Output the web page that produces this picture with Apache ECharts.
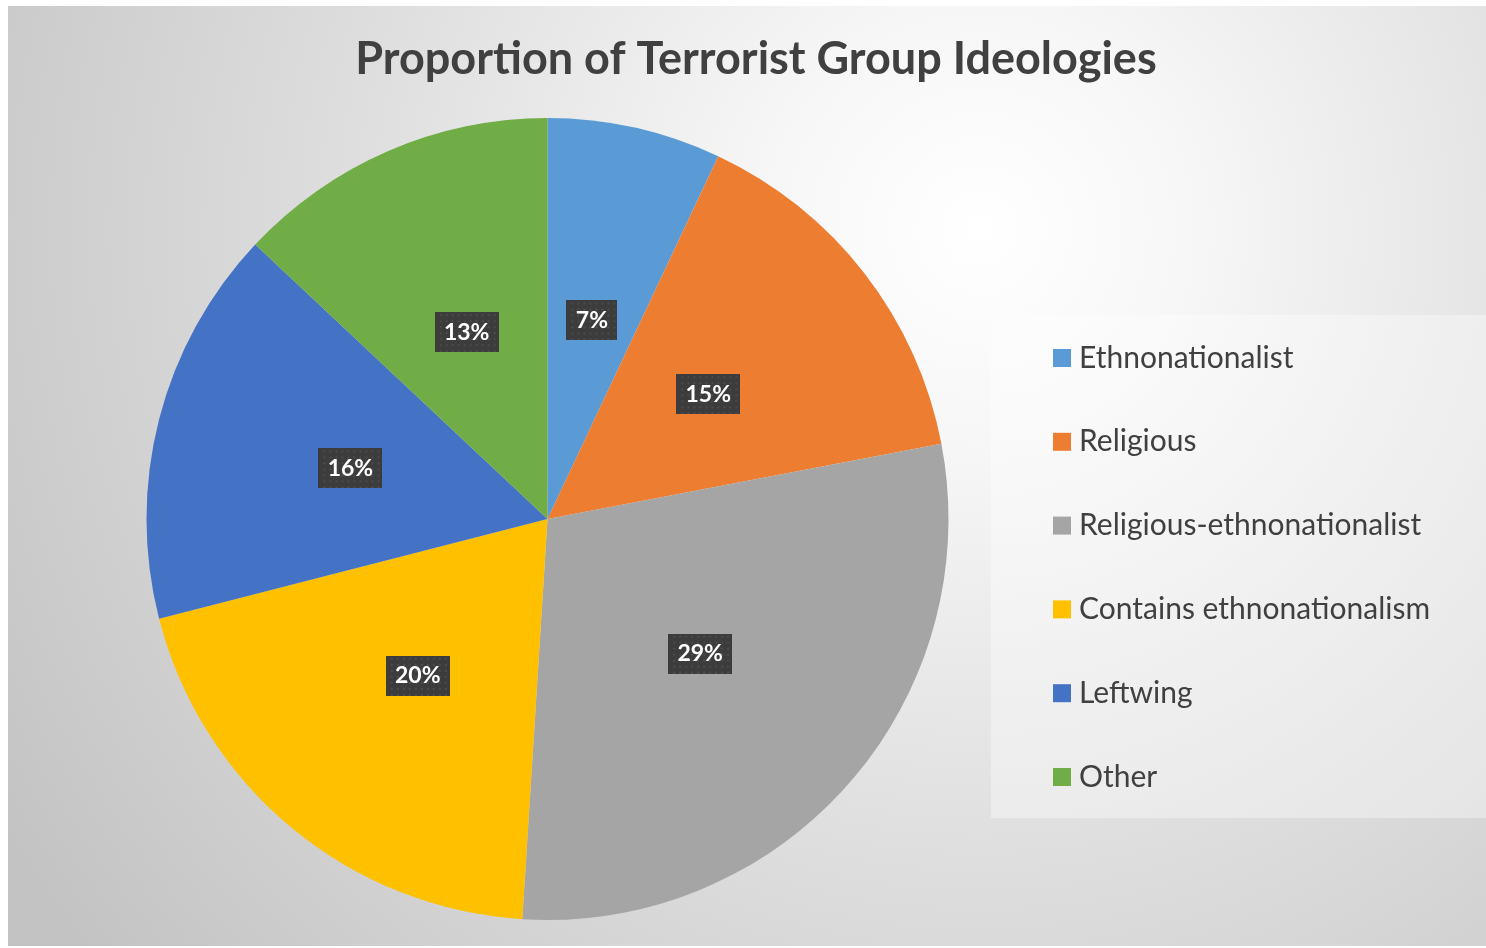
<!DOCTYPE html>
<html>
<head>
<meta charset="utf-8">
<title>Proportion of Terrorist Group Ideologies</title>
<script src="https://cdn.jsdelivr.net/npm/echarts@6/dist/echarts.min.js"></script>
<style>
  html, body { margin: 0; padding: 0; background: #ffffff; }
  #chart { width: 1486px; height: 948px; }
</style>
</head>
<body>
<div id="chart"></div>
<script>
// Ideology categories and their share of groups (percent)
const categories = [
  'Ethnonationalist',
  'Religious',
  'Religious-ethnonationalist',
  'Contains ethnonationalism',
  'Leftwing',
  'Other'
];
const shares = [7, 15, 29, 20, 16, 13];
const sliceColors = ['#5B9BD5', '#ED7D31', '#A5A5A5', '#FFC000', '#4472C4', '#70AD47'];
const chartTitle = 'Proportion of Terrorist Group Ideologies';

const FONT = 'Lato, "Open Sans", sans-serif';
const LABEL_FONT_SIZE = 23;
const LABEL_PAD_X = 9;
const LABEL_H = 40;

// Dark dotted tile used behind each percentage label
function makeLabelTile(w, h) {
  const c = document.createElement('canvas');
  c.width = w; c.height = h;
  const g = c.getContext('2d');
  g.fillStyle = '#3c3c3c';
  g.fillRect(0, 0, w, h);
  g.fillStyle = '#4c4c4c';
  for (let y = 2; y < h; y += 6) {
    for (let x = 2 + ((y / 6) % 2 ? 3 : 0); x < w; x += 6) {
      g.fillRect(x, y, 2, 2);
    }
  }
  return c;
}

const measureCtx = document.createElement('canvas').getContext('2d');
measureCtx.font = 'bold ' + LABEL_FONT_SIZE + 'px ' + FONT;

const pieData = categories.map((name, i) => {
  const text = shares[i] + '%';
  const w = Math.ceil(measureCtx.measureText(text).width) + LABEL_PAD_X * 2;
  return {
    name: name,
    value: shares[i],
    itemStyle: { color: sliceColors[i] },
    label: {
      width: w,
      height: LABEL_H,
      backgroundColor: { image: makeLabelTile(w, LABEL_H) }
    }
  };
});

const chart = echarts.init(document.getElementById('chart'), null, { renderer: 'canvas' });

chart.setOption({
  animation: false,
  backgroundColor: '#ffffff',
  graphic: [
    {
      // chart area with a soft radial light
      type: 'rect',
      z: -10,
      silent: true,
      shape: { x: 8, y: 6, width: 1478, height: 940 },
      style: {
        fill: {
          type: 'radial',
          x: 980, y: 230, r: 1150,
          global: true,
          colorStops: [
            { offset: 0, color: '#ffffff' },
            { offset: 0.18, color: '#f7f7f7' },
            { offset: 0.55, color: '#dedede' },
            { offset: 1, color: '#c3c3c3' }
          ]
        }
      }
    },
    {
      // translucent legend panel
      type: 'rect',
      z: -9,
      silent: true,
      shape: { x: 991, y: 315, width: 495, height: 503 },
      style: { fill: 'rgba(255,255,255,0.36)' }
    }
  ],
  title: {
    text: chartTitle,
    left: 756,
    top: 37,
    padding: 0,
    textAlign: 'center',
    textStyle: {
      fontFamily: FONT,
      fontWeight: 'bold',
      fontSize: 45,
      color: '#404040'
    }
  },
  legend: {
    orient: 'vertical',
    left: 1053,
    top: 343,
    padding: 0,
    data: categories,
    icon: 'rect',
    itemWidth: 18,
    itemHeight: 18,
    itemGap: 53.8,
    textStyle: {
      fontFamily: FONT,
      fontSize: 30,
      lineHeight: 30,
      color: '#404040',
      padding: [0, 0, 0, 3]
    }
  },
  series: [
    {
      type: 'pie',
      center: [547.5, 519],
      radius: 401,
      startAngle: 90,
      clockwise: true,
      avoidLabelOverlap: false,
      emphasis: { disabled: true },
      itemStyle: { borderWidth: 0 },
      label: {
        show: true,
        position: 'inside',
        formatter: '{d}%',
        fontFamily: FONT,
        fontWeight: 'bold',
        fontSize: LABEL_FONT_SIZE,
        color: '#ffffff',
        align: 'center',
        verticalAlign: 'middle',
        lineHeight: LABEL_H,
        padding: 0,
        shadowColor: 'rgba(0,0,0,0.55)',
        shadowBlur: 6,
        shadowOffsetX: 3,
        shadowOffsetY: 3
      },
      labelLine: { show: false },
      data: pieData
    }
  ]
});
</script>
</body>
</html>
